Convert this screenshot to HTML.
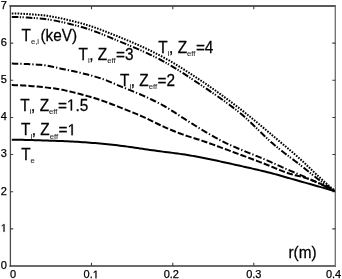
<!DOCTYPE html>
<html><head><meta charset="utf-8"><style>
html,body{margin:0;padding:0;background:#fff;}
svg{display:block;filter:blur(0.3px);}
text{font-family:"Liberation Sans",sans-serif;fill:#000;stroke:#000;stroke-width:0.25px;}
.one{fill-opacity:0;stroke-opacity:0;}
.g1{fill:#000;stroke:#000;stroke-width:0.25px;vector-effect:non-scaling-stroke;}
</style></head><body>
<svg width="342" height="279" viewBox="0 0 342 279">
<rect width="342" height="279" fill="#fff"/>
<g fill="none">
<path d="M9.5,6 H336" stroke="#5a5a5a" stroke-width="2"/>
<path d="M9.5,266 H336" stroke="#6c6c6c" stroke-width="2"/>
<path d="M10.4,5 V267" stroke="#4c4c4c" stroke-width="1.3"/>
<path d="M335.3,5 V267" stroke="#6c6c6c" stroke-width="1.3"/>
<path d="M10,228.86h3.2 M335.5,228.86h-3.2 M10,191.71h3.2 M335.5,191.71h-3.2 M10,154.57h3.2 M335.5,154.57h-3.2 M10,117.43h3.2 M335.5,117.43h-3.2 M10,80.29h3.2 M335.5,80.29h-3.2 M10,43.14h3.2 M335.5,43.14h-3.2 M91.50,266v-3.2 M91.50,6v3.2 M172.80,266v-3.2 M172.80,6v3.2 M253.80,266v-3.2 M253.80,6v3.2" stroke="#404040" stroke-width="1.1"/>
</g>
<g font-size="11">
<text x="6.9" y="268.90" text-anchor="end">0</text>
<text x="6.9" y="231.76" text-anchor="end"><tspan class="one">1</tspan></text>
<text x="6.9" y="194.61" text-anchor="end">2</text>
<text x="6.9" y="157.47" text-anchor="end">3</text>
<text x="6.9" y="120.33" text-anchor="end">4</text>
<text x="6.9" y="83.19" text-anchor="end">5</text>
<text x="6.9" y="46.04" text-anchor="end">6</text>
<text x="6.9" y="8.90" text-anchor="end">7</text>
<text x="13.00" y="278.3" text-anchor="middle">0</text>
<text x="91.20" y="278.3" text-anchor="middle">0.<tspan class="one">1</tspan></text>
<text x="171.30" y="278.3" text-anchor="middle">0.2</text>
<text x="253.80" y="278.3" text-anchor="middle">0.3</text>
<text x="333.60" y="278.3" text-anchor="middle">0.4</text>
</g>
<g fill="none" stroke="#000" stroke-width="2">
<path d="M11.8,13.41 L12.5,13.42 L15.0,13.46 L17.5,13.53 L20.0,13.63 L22.5,13.75 L25.0,13.89 L27.5,14.05 L30.0,14.22 L32.5,14.40 L35.0,14.60 L37.5,14.80 L40.0,15.00 L42.5,15.23 L45.0,15.52 L47.5,15.85 L50.0,16.23 L52.5,16.65 L55.0,17.11 L57.5,17.60 L60.0,18.13 L62.5,18.68 L65.0,19.25 L67.5,19.85 L70.0,20.46 L72.5,21.09 L75.0,21.72 L77.5,22.36 L80.0,23.00 L82.5,23.67 L85.0,24.38 L87.5,25.13 L90.0,25.93 L92.5,26.76 L95.0,27.62 L97.5,28.51 L100.0,29.43 L102.5,30.37 L105.0,31.33 L107.5,32.31 L110.0,33.29 L112.5,34.29 L115.0,35.29 L117.5,36.30 L120.0,37.30 L122.5,38.31 L125.0,39.33 L127.5,40.37 L130.0,41.42 L132.5,42.48 L135.0,43.57 L137.5,44.67 L140.0,45.79 L142.5,46.93 L145.0,48.09 L147.5,49.27 L150.0,50.47 L152.5,51.69 L155.0,52.94 L157.5,54.21 L160.0,55.50 L162.5,56.83 L165.0,58.19 L167.5,59.59 L170.0,61.02 L172.5,62.49 L175.0,63.98 L177.5,65.51 L180.0,67.05 L182.5,68.62 L185.0,70.21 L187.5,71.81 L190.0,73.43 L192.5,75.06 L195.0,76.70 L197.5,78.35 L200.0,80.00 L202.5,81.67 L205.0,83.35 L207.5,85.06 L210.0,86.78 L212.5,88.53 L215.0,90.29 L217.5,92.07 L220.0,93.86 L222.5,95.68 L225.0,97.51 L227.5,99.35 L230.0,101.22 L232.5,103.09 L235.0,104.98 L237.5,106.88 L240.0,108.80 L242.5,110.74 L245.0,112.70 L247.5,114.69 L250.0,116.70 L252.5,118.74 L255.0,120.79 L257.5,122.86 L260.0,124.94 L262.5,127.03 L265.0,129.13 L267.5,131.24 L270.0,133.35 L272.5,135.47 L275.0,137.58 L277.5,139.69 L280.0,141.80 L282.5,143.90 L285.0,146.00 L287.5,148.10 L290.0,150.21 L292.5,152.34 L295.0,154.49 L297.5,156.68 L300.0,158.90 L302.5,161.18 L305.0,163.53 L307.5,165.91 L310.0,168.32 L312.5,170.73 L315.0,173.13 L317.5,175.49 L320.0,177.80 L322.5,180.06 L325.0,182.30 L327.5,184.51 L330.0,186.70 L332.5,188.86 L334.6,190.66" stroke-dasharray="1.6 1.3" stroke-width="2"/>
<path d="M11.8,16.91 L12.5,16.92 L15.0,16.96 L17.5,17.03 L20.0,17.13 L22.5,17.25 L25.0,17.39 L27.5,17.55 L30.0,17.72 L32.5,17.90 L35.0,18.10 L37.5,18.30 L40.0,18.50 L42.5,18.73 L45.0,19.02 L47.5,19.35 L50.0,19.73 L52.5,20.16 L55.0,20.62 L57.5,21.12 L60.0,21.65 L62.5,22.20 L65.0,22.78 L67.5,23.39 L70.0,24.01 L72.5,24.64 L75.0,25.29 L77.5,25.94 L80.0,26.60 L82.5,27.29 L85.0,28.03 L87.5,28.82 L90.0,29.66 L92.5,30.54 L95.0,31.45 L97.5,32.40 L100.0,33.37 L102.5,34.37 L105.0,35.39 L107.5,36.42 L110.0,37.45 L112.5,38.50 L115.0,39.54 L117.5,40.57 L120.0,41.60 L122.5,42.62 L125.0,43.65 L127.5,44.68 L130.0,45.72 L132.5,46.76 L135.0,47.82 L137.5,48.90 L140.0,49.99 L142.5,51.09 L145.0,52.22 L147.5,53.37 L150.0,54.54 L152.5,55.74 L155.0,56.96 L157.5,58.21 L160.0,59.50 L162.5,60.83 L165.0,62.20 L167.5,63.62 L170.0,65.07 L172.5,66.56 L175.0,68.09 L177.5,69.64 L180.0,71.23 L182.5,72.83 L185.0,74.45 L187.5,76.09 L190.0,77.74 L192.5,79.40 L195.0,81.07 L197.5,82.73 L200.0,84.40 L202.5,86.06 L205.0,87.73 L207.5,89.41 L210.0,91.09 L212.5,92.79 L215.0,94.50 L217.5,96.23 L220.0,97.98 L222.5,99.75 L225.0,101.54 L227.5,103.37 L230.0,105.22 L232.5,107.11 L235.0,109.03 L237.5,111.00 L240.0,113.00 L242.5,115.08 L245.0,117.26 L247.5,119.53 L250.0,121.87 L252.5,124.25 L255.0,126.68 L257.5,129.13 L260.0,131.58 L262.5,134.02 L265.0,136.43 L267.5,138.80 L270.0,141.11 L272.5,143.35 L275.0,145.50 L277.5,147.56 L280.0,149.57 L282.5,151.52 L285.0,153.44 L287.5,155.33 L290.0,157.21 L292.5,159.08 L295.0,160.96 L297.5,162.87 L300.0,164.80 L302.5,166.77 L305.0,168.77 L307.5,170.79 L310.0,172.80 L312.5,174.81 L315.0,176.78 L317.5,178.72 L320.0,180.60 L322.5,182.43 L325.0,184.23 L327.5,186.00 L330.0,187.73 L332.5,189.43 L334.6,190.84" stroke-dasharray="6.6 1.4 1.3 1.4 1.3 2.0"/>
<path d="M11.8,63.61 L12.5,63.61 L15.0,63.64 L17.5,63.69 L20.0,63.76 L22.5,63.84 L25.0,63.94 L27.5,64.06 L30.0,64.19 L32.5,64.32 L35.0,64.47 L37.5,64.63 L40.0,64.80 L42.5,65.03 L45.0,65.36 L47.5,65.78 L50.0,66.26 L52.5,66.79 L55.0,67.33 L57.5,67.87 L60.0,68.40 L62.5,68.91 L65.0,69.43 L67.5,69.95 L70.0,70.48 L72.5,71.02 L75.0,71.57 L77.5,72.13 L80.0,72.71 L82.5,73.31 L85.0,73.93 L87.5,74.56 L90.0,75.22 L92.5,75.90 L95.0,76.61 L97.5,77.34 L100.0,78.10 L102.5,78.93 L105.0,79.84 L107.5,80.82 L110.0,81.86 L112.5,82.92 L115.0,83.99 L117.5,85.06 L120.0,86.10 L122.5,87.11 L125.0,88.12 L127.5,89.13 L130.0,90.13 L132.5,91.15 L135.0,92.18 L137.5,93.22 L140.0,94.29 L142.5,95.38 L145.0,96.50 L147.5,97.65 L150.0,98.82 L152.5,100.02 L155.0,101.24 L157.5,102.50 L160.0,103.79 L162.5,105.12 L165.0,106.50 L167.5,107.95 L170.0,109.47 L172.5,111.05 L175.0,112.68 L177.5,114.33 L180.0,115.98 L182.5,117.61 L185.0,119.20 L187.5,120.77 L190.0,122.36 L192.5,123.94 L195.0,125.51 L197.5,127.07 L200.0,128.61 L202.5,130.12 L205.0,131.60 L207.5,133.06 L210.0,134.50 L212.5,135.94 L215.0,137.34 L217.5,138.72 L220.0,140.06 L222.5,141.36 L225.0,142.60 L227.5,143.79 L230.0,144.95 L232.5,146.07 L235.0,147.16 L237.5,148.22 L240.0,149.26 L242.5,150.29 L245.0,151.31 L247.5,152.31 L250.0,153.32 L252.5,154.32 L255.0,155.33 L257.5,156.35 L260.0,157.38 L262.5,158.43 L265.0,159.50 L267.5,160.59 L270.0,161.70 L272.5,162.81 L275.0,163.93 L277.5,165.05 L280.0,166.17 L282.5,167.29 L285.0,168.40 L287.5,169.51 L290.0,170.60 L292.5,171.67 L295.0,172.73 L297.5,173.78 L300.0,174.83 L302.5,175.90 L305.0,177.00 L307.5,178.12 L310.0,179.24 L312.5,180.38 L315.0,181.52 L317.5,182.68 L320.0,183.85 L322.5,185.03 L325.0,186.22 L327.5,187.42 L330.0,188.63 L332.5,189.86 L334.6,190.90" stroke-dasharray="6.5 2 1.3 2.2"/>
<path d="M11.8,85.11 L12.5,85.12 L15.0,85.16 L17.5,85.24 L20.0,85.34 L22.5,85.46 L25.0,85.61 L27.5,85.78 L30.0,85.97 L32.5,86.17 L35.0,86.39 L37.5,86.62 L40.0,86.86 L42.5,87.11 L45.0,87.37 L47.5,87.63 L50.0,87.90 L52.5,88.19 L55.0,88.54 L57.5,88.93 L60.0,89.37 L62.5,89.85 L65.0,90.37 L67.5,90.92 L70.0,91.50 L72.5,92.11 L75.0,92.74 L77.5,93.39 L80.0,94.05 L82.5,94.73 L85.0,95.42 L87.5,96.11 L90.0,96.80 L92.5,97.51 L95.0,98.27 L97.5,99.07 L100.0,99.90 L102.5,100.76 L105.0,101.65 L107.5,102.57 L110.0,103.51 L112.5,104.47 L115.0,105.44 L117.5,106.42 L120.0,107.42 L122.5,108.41 L125.0,109.41 L127.5,110.41 L130.0,111.40 L132.5,112.40 L135.0,113.41 L137.5,114.45 L140.0,115.51 L142.5,116.60 L145.0,117.70 L147.5,118.85 L150.0,120.05 L152.5,121.28 L155.0,122.53 L157.5,123.77 L160.0,124.99 L162.5,126.17 L165.0,127.30 L167.5,128.38 L170.0,129.45 L172.5,130.50 L175.0,131.52 L177.5,132.51 L180.0,133.48 L182.5,134.41 L185.0,135.30 L187.5,136.14 L190.0,136.92 L192.5,137.68 L195.0,138.43 L197.5,139.19 L200.0,140.00 L202.5,140.84 L205.0,141.71 L207.5,142.59 L210.0,143.49 L212.5,144.39 L215.0,145.31 L217.5,146.23 L220.0,147.16 L222.5,148.08 L225.0,149.00 L227.5,149.92 L230.0,150.84 L232.5,151.76 L235.0,152.69 L237.5,153.61 L240.0,154.55 L242.5,155.48 L245.0,156.41 L247.5,157.35 L250.0,158.29 L252.5,159.24 L255.0,160.18 L257.5,161.13 L260.0,162.09 L262.5,163.04 L265.0,164.00 L267.5,164.98 L270.0,166.00 L272.5,167.04 L275.0,168.08 L277.5,169.12 L280.0,170.15 L282.5,171.14 L285.0,172.09 L287.5,172.98 L290.0,173.80 L292.5,174.53 L295.0,175.17 L297.5,175.78 L300.0,176.39 L302.5,177.05 L305.0,177.80 L307.5,178.64 L310.0,179.52 L312.5,180.46 L315.0,181.44 L317.5,182.48 L320.0,183.56 L322.5,184.69 L325.0,185.88 L327.5,187.11 L330.0,188.39 L332.5,189.72 L334.6,190.88" stroke-dasharray="6.2 2.1"/>
<path d="M11.8,139.63 L12.5,139.64 L15.0,139.68 L17.5,139.73 L20.0,139.78 L22.5,139.84 L25.0,139.90 L27.5,139.96 L30.0,140.02 L32.5,140.09 L35.0,140.16 L37.5,140.23 L40.0,140.30 L42.5,140.38 L45.0,140.46 L47.5,140.54 L50.0,140.63 L52.5,140.72 L55.0,140.81 L57.5,140.91 L60.0,141.01 L62.5,141.12 L65.0,141.23 L67.5,141.35 L70.0,141.47 L72.5,141.59 L75.0,141.72 L77.5,141.86 L80.0,142.00 L82.5,142.15 L85.0,142.31 L87.5,142.49 L90.0,142.68 L92.5,142.88 L95.0,143.08 L97.5,143.30 L100.0,143.53 L102.5,143.76 L105.0,144.00 L107.5,144.25 L110.0,144.50 L112.5,144.76 L115.0,145.04 L117.5,145.33 L120.0,145.64 L122.5,145.96 L125.0,146.29 L127.5,146.63 L130.0,146.98 L132.5,147.34 L135.0,147.70 L137.5,148.06 L140.0,148.43 L142.5,148.80 L145.0,149.17 L147.5,149.53 L150.0,149.90 L152.5,150.26 L155.0,150.61 L157.5,150.96 L160.0,151.30 L162.5,151.63 L165.0,151.95 L167.5,152.26 L170.0,152.57 L172.5,152.88 L175.0,153.20 L177.5,153.53 L180.0,153.87 L182.5,154.22 L185.0,154.60 L187.5,155.00 L190.0,155.42 L192.5,155.87 L195.0,156.33 L197.5,156.81 L200.0,157.29 L202.5,157.79 L205.0,158.29 L207.5,158.80 L210.0,159.30 L212.5,159.81 L215.0,160.32 L217.5,160.85 L220.0,161.38 L222.5,161.92 L225.0,162.46 L227.5,163.01 L230.0,163.56 L232.5,164.12 L235.0,164.68 L237.5,165.24 L240.0,165.80 L242.5,166.36 L245.0,166.92 L247.5,167.48 L250.0,168.04 L252.5,168.61 L255.0,169.18 L257.5,169.76 L260.0,170.35 L262.5,170.94 L265.0,171.55 L267.5,172.17 L270.0,172.80 L272.5,173.45 L275.0,174.13 L277.5,174.83 L280.0,175.54 L282.5,176.25 L285.0,176.97 L287.5,177.69 L290.0,178.40 L292.5,179.11 L295.0,179.81 L297.5,180.52 L300.0,181.22 L302.5,181.93 L305.0,182.64 L307.5,183.35 L310.0,184.06 L312.5,184.77 L315.0,185.48 L317.5,186.19 L320.0,186.90 L322.5,187.62 L325.0,188.33 L327.5,189.05 L330.0,189.76 L332.5,190.48 L334.6,191.09" />
</g>
<g font-size="16">
<text transform="translate(21.5,41) scale(0.96,1)">T<tspan font-size="8" dy="3.3" style="stroke-width:0.05px;fill:#1a1a1a">e,i</tspan><tspan dy="-3.3" dx="1.5">(keV)</tspan></text>
<text transform="translate(78.5,59.6) scale(0.96,1)">T<tspan font-size="8" dy="3.3" style="stroke-width:0.05px;fill:#1a1a1a">i</tspan><tspan dy="-3.3" dx="-0.3">, Z</tspan><tspan font-size="8" dy="3.3" style="stroke-width:0.05px;fill:#1a1a1a">eff</tspan><tspan dy="-3.3" dx="0.5">=3</tspan></text>
<text transform="translate(158.3,52.8) scale(0.96,1)">T<tspan font-size="8" dy="3.3" style="stroke-width:0.05px;fill:#1a1a1a">i</tspan><tspan dy="-3.3" dx="-0.3">, Z</tspan><tspan font-size="8" dy="3.3" style="stroke-width:0.05px;fill:#1a1a1a">eff</tspan><tspan dy="-3.3" dx="0.5">=4</tspan></text>
<text transform="translate(120,85.9) scale(0.96,1)">T<tspan font-size="8" dy="3.3" style="stroke-width:0.05px;fill:#1a1a1a">i</tspan><tspan dy="-3.3" dx="-0.3">, Z</tspan><tspan font-size="8" dy="3.3" style="stroke-width:0.05px;fill:#1a1a1a">eff</tspan><tspan dy="-3.3" dx="0.5">=2</tspan></text>
<text transform="translate(20.3,110.5) scale(0.96,1)">T<tspan font-size="8" dy="3.3" style="stroke-width:0.05px;fill:#1a1a1a">i</tspan><tspan dy="-3.3" dx="-0.3">, Z</tspan><tspan font-size="8" dy="3.3" style="stroke-width:0.05px;fill:#1a1a1a">eff</tspan><tspan dy="-3.3" dx="0.5">=<tspan class="one">1</tspan>.5</tspan></text>
<text transform="translate(21,135.2) scale(0.96,1)">T<tspan font-size="8" dy="3.3" style="stroke-width:0.05px;fill:#1a1a1a">i</tspan><tspan dy="-3.3" dx="-0.3">, Z</tspan><tspan font-size="8" dy="3.3" style="stroke-width:0.05px;fill:#1a1a1a">eff</tspan><tspan dy="-3.3" dx="0.5">=<tspan class="one">1</tspan></tspan></text>
<text transform="translate(21.2,159.5) scale(0.96,1)">T<tspan font-size="8" dy="3.3" style="stroke-width:0.05px;fill:#1a1a1a">e</tspan></text>
<text transform="translate(288.5,258) scale(0.96,1)">r(m)</text>
</g>
<path class="g1" transform="matrix(0.00537,0.00000,0.00000,-0.00537,0.775,231.760)" d="M515,0 L515,1237 L197,1010 L197,1180 L530,1409 L696,1409 L696,0 Z"/>
<path class="g1" transform="matrix(0.00537,0.00000,0.00000,-0.00537,92.731,278.300)" d="M515,0 L515,1237 L197,1010 L197,1180 L530,1409 L696,1409 L696,0 Z"/>
<path class="g1" transform="matrix(0.00750,0.00000,0.00000,-0.00781,66.860,110.500)" d="M515,0 L515,1237 L197,1010 L197,1180 L530,1409 L696,1409 L696,0 Z"/>
<path class="g1" transform="matrix(0.00750,0.00000,0.00000,-0.00781,67.560,135.200)" d="M515,0 L515,1237 L197,1010 L197,1180 L530,1409 L696,1409 L696,0 Z"/>
</svg>
</body></html>
